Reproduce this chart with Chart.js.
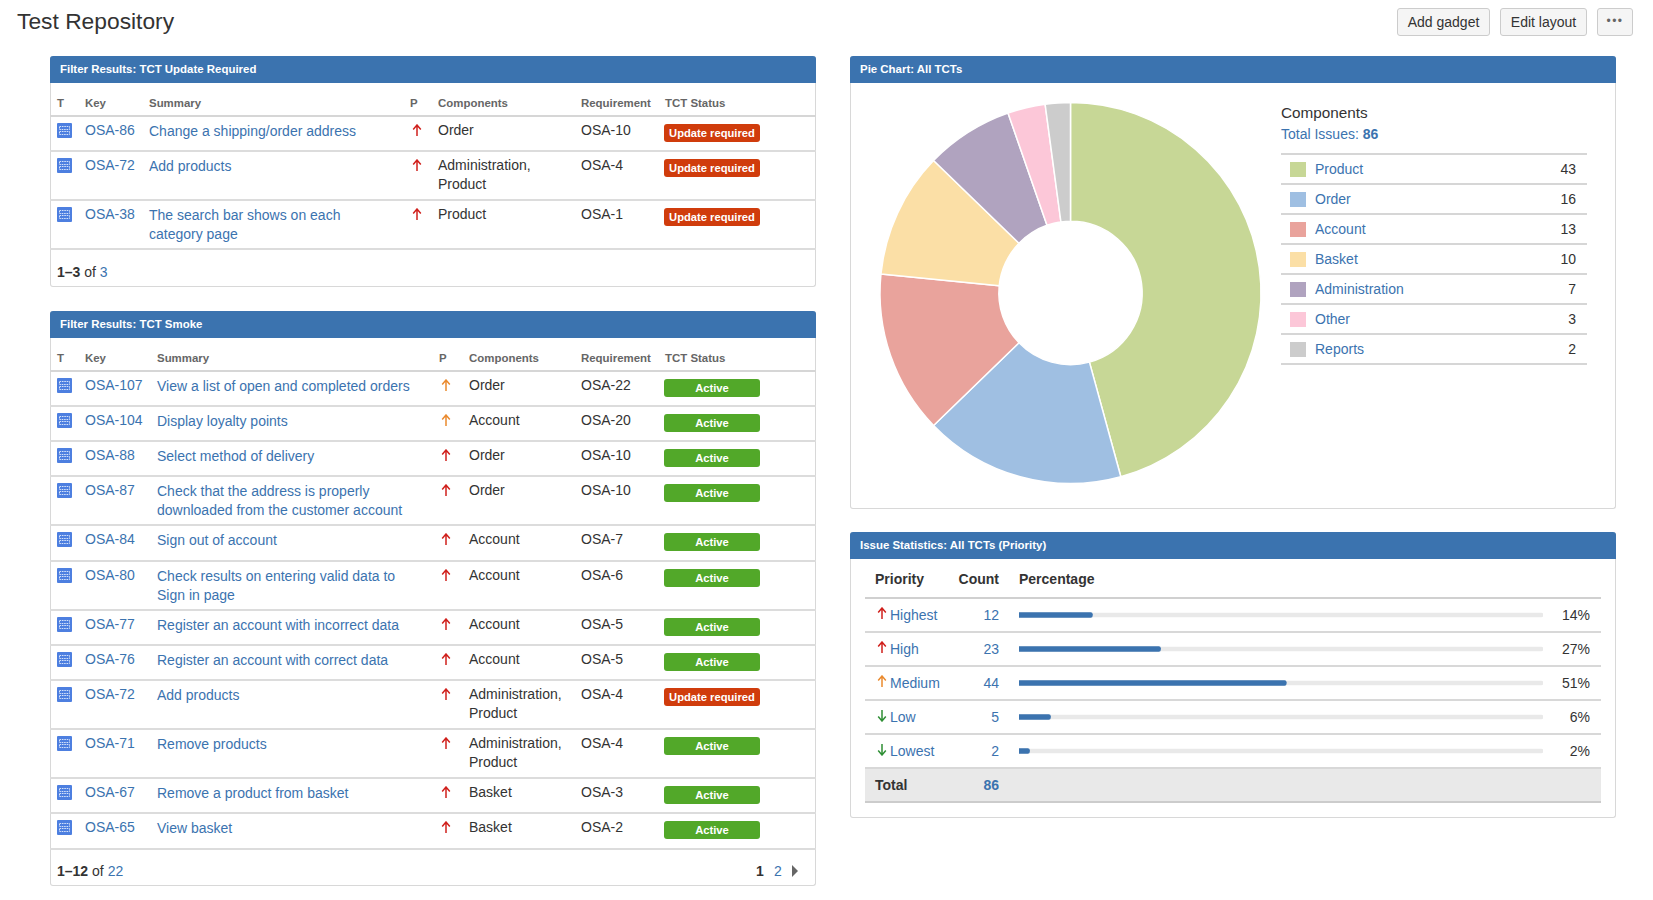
<!DOCTYPE html>
<html>
<head>
<meta charset="utf-8">
<title>Test Repository</title>
<script src="https://cdn.jsdelivr.net/npm/chart.js@4/dist/chart.umd.js"></script>
<style>
  html, body { margin: 0; padding: 0; background: #fff; }
  body { width: 1653px; height: 900px; overflow: hidden; position: relative; font: 14px/19px "Liberation Sans", Arial, sans-serif; color: #333; }
  a { color: #3b73af; text-decoration: none; }
  h1 { position: absolute; left: 17px; top: 7px; margin: 0; font-size: 22.8px; line-height: 29px; font-weight: normal; color: #333; }
  .btn { position: absolute; top: 8px; height: 28px; box-sizing: border-box; border: 1px solid #ccc; border-radius: 3px; background: #f5f5f5; text-align: center; line-height: 26px; color: #333; }
  .panel { position: absolute; box-sizing: border-box; border: 1px solid #d8d8d8; border-top: 0; border-radius: 3px; }
  .panel > .head { position: absolute; left: -1px; right: -1px; top: 0; height: 27px; background: #3b73af; color: #fff; font-weight: bold; font-size: 11.45px; line-height: 26px; padding-left: 10px; border-radius: 3px 3px 0 0; }
  table { border-collapse: separate; border-spacing: 0; table-layout: fixed; position: absolute; }
  .issues { left: -1px; top: 27px; }
  .issues th { height: 34px; box-sizing: border-box; padding: 13px 0 0; text-align: left; font-size: 11.45px; line-height: 14px; color: #666; vertical-align: top; border-bottom: 2px solid #d6d6d6; white-space: nowrap; }
  .issues td { height: 35.1px; box-sizing: border-box; padding: 4px 0 5.2px; vertical-align: top; border-bottom: 2px solid #dcdcdc; white-space: pre-line; position: relative; }
  .issues th:first-child { padding-left: 7px; }
  .issues td.sum a { position: relative; top: 1px; }
  .icon { position: absolute; left: 7px; top: 6px; }
  .arrow { position: absolute; left: 2px; top: 7px; }
  .loz { position: absolute; left: -1px; top: 7px; width: 96px; height: 18px; border-radius: 3px; color: #fff; font-weight: bold; font-size: 11.2px; line-height: 18px; text-align: center; }
  .loz.upd { background: #d03c0c; }
  .loz.act { background: #52a829; }
  .foot { position: absolute; left: 6px; }
  .legend { left: 430px; top: 97px; border-top: 2px solid #d6d6d6; }
  .legend td { height: 30px; box-sizing: border-box; border-bottom: 2px solid #d6d6d6; padding: 0; position: relative; }
  .legend .sw { display: block; position: absolute; left: 9px; top: 7px; width: 16px; height: 15px; }
  .legend .lab { padding-left: 34px; }
  .legend .cnt { text-align: right; padding-right: 11px; }
  .stats { left: 14px; top: 27px; }
  .stats th { height: 40px; box-sizing: border-box; padding: 2px 0 0; text-align: left; vertical-align: middle; font-weight: bold; color: #333; border-bottom: 2px solid #d0d0d0; }
  .stats td { height: 34px; box-sizing: border-box; padding: 0; border-bottom: 2px solid #d8d8d8; position: relative; }
  .stats .num { text-align: right; }
  .stats .pr { padding-left: 25px; }
  .stats .pct { text-align: right; padding-right: 11px; }
  .stats .total td { background: #e9e9e9; font-weight: bold; border-bottom-color: #ccc; }
  .stats .arrow { left: 12px; top: 8px; }
  canvas { position: absolute; display: block; }
</style>
</head>
<body>
<script>
// pie gadget
const pieCategories = ['Product', 'Order', 'Account', 'Basket', 'Administration', 'Other', 'Reports'];
const pieValues = [43, 16, 13, 10, 7, 3, 2];
const pieColors = ['#c7d796', '#9fbfe2', '#e9a39c', '#fbdfa6', '#b0a3bf', '#fcc7d8', '#cccccc'];
const totalIssues = 86;

// issue statistics gadget
const priorityNames = ['Highest', 'High', 'Medium', 'Low', 'Lowest'];
const priorityCounts = [12, 23, 44, 5, 2];
const priorityPercents = [14, 27, 51, 6, 2];
const priorityTrack = [100, 100, 100, 100, 100];

// filter results: key, summary, priority, components, requirement, status
const updateRows = [
  ['OSA-86', 'Change a shipping/order address', 'Highest', 'Order', 'OSA-10', 'Update required'],
  ['OSA-72', 'Add products', 'Highest', 'Administration,\nProduct', 'OSA-4', 'Update required'],
  ['OSA-38', 'The search bar shows on each\ncategory page', 'Highest', 'Product', 'OSA-1', 'Update required']
];
const smokeRows = [
  ['OSA-107', 'View a list of open and completed orders', 'Medium', 'Order', 'OSA-22', 'Active'],
  ['OSA-104', 'Display loyalty points', 'Medium', 'Account', 'OSA-20', 'Active'],
  ['OSA-88', 'Select method of delivery', 'Highest', 'Order', 'OSA-10', 'Active'],
  ['OSA-87', 'Check that the address is properly\ndownloaded from the customer account', 'Highest', 'Order', 'OSA-10', 'Active'],
  ['OSA-84', 'Sign out of account', 'Highest', 'Account', 'OSA-7', 'Active'],
  ['OSA-80', 'Check results on entering valid data to\nSign in page', 'Highest', 'Account', 'OSA-6', 'Active'],
  ['OSA-77', 'Register an account with incorrect data', 'Highest', 'Account', 'OSA-5', 'Active'],
  ['OSA-76', 'Register an account with correct data', 'Highest', 'Account', 'OSA-5', 'Active'],
  ['OSA-72', 'Add products', 'Highest', 'Administration,\nProduct', 'OSA-4', 'Update required'],
  ['OSA-71', 'Remove products', 'Highest', 'Administration,\nProduct', 'OSA-4', 'Active'],
  ['OSA-67', 'Remove a product from basket', 'Highest', 'Basket', 'OSA-3', 'Active'],
  ['OSA-65', 'View basket', 'Highest', 'Basket', 'OSA-2', 'Active']
];
const issueColumns = ['T', 'Key', 'Summary', 'P', 'Components', 'Requirement', 'TCT Status'];

const arrowColors = { Highest: '#d0201c', High: '#d0201c', Medium: '#ea8a2e', Low: '#2f8f35', Lowest: '#2f8f35' };

function arrowSvg(priority) {
  const c = arrowColors[priority];
  const path = (priority === 'Low' || priority === 'Lowest') ? 'M5 12V1M1.2 7.6 5 12 8.8 7.6' : 'M5 12V1M1.2 5.4 5 1 8.8 5.4';
  return '<svg class="arrow" width="10" height="13" viewBox="0 0 10 13"><path d="' + path + '" fill="none" stroke="' + c + '" stroke-width="1.5"/></svg>';
}

const typeIcon = '<svg class="icon" width="15" height="15" viewBox="0 0 15 15"><rect width="15" height="15" rx="1" fill="#4d7fe0"/>' +
  '<path d="M2.5 3.5h10v3h-10zM2.5 8.5h10v3h-10z" fill="none" stroke="#d5e2fa" stroke-width="1" stroke-dasharray="1.6 .8"/></svg>';

function addPanel(left, top, width, height, title) {
  const p = document.createElement('div');
  p.className = 'panel';
  p.style.cssText = 'left:' + left + 'px;top:' + top + 'px;width:' + width + 'px;height:' + height + 'px';
  p.innerHTML = '<div class="head">' + title + '</div>';
  document.body.appendChild(p);
  return p;
}

function issueTable(panel, rows, widths) {
  let html = '<table class="issues" style="width:' + widths.reduce((a, b) => a + b, 0) + 'px"><colgroup>' +
    widths.map(w => '<col style="width:' + w + 'px">').join('') + '</colgroup><tr>' +
    issueColumns.map(c => '<th>' + c + '</th>').join('') + '</tr>';
  rows.forEach(r => {
    const cls = r[5] === 'Active' ? 'act' : 'upd';
    html += '<tr><td>' + typeIcon + '</td><td><a>' + r[0] + '</a></td><td class="sum"><a>' + r[1] + '</a></td><td>' + arrowSvg(r[2]) +
      '</td><td>' + r[3] + '</td><td>' + r[4] + '</td><td><span class="loz ' + cls + '">' + r[5] + '</span></td></tr>';
  });
  panel.insertAdjacentHTML('beforeend', html + '</table>');
}

document.body.insertAdjacentHTML('beforeend', '<h1>Test Repository</h1>' +
  '<div class="btn" style="left:1397px;width:93px">Add gadget</div>' +
  '<div class="btn" style="left:1500px;width:87px">Edit layout</div>' +
  '<div class="btn" style="left:1597px;width:36px;font-size:12px;line-height:24px;letter-spacing:1.5px;color:#666">•••</div>');

const p1 = addPanel(50, 56, 766, 231, 'Filter Results: TCT Update Required');
issueTable(p1, updateRows, [35, 64, 261, 28, 143, 84, 151]);
p1.insertAdjacentHTML('beforeend', '<div class="foot" style="top:207px"><b>1–3</b> of <a>3</a></div>');

const p2 = addPanel(50, 311, 766, 575, 'Filter Results: TCT Smoke');
issueTable(p2, smokeRows, [35, 72, 282, 30, 112, 84, 151]);
p2.insertAdjacentHTML('beforeend', '<div class="foot" style="top:551px"><b>1–12</b> of <a>22</a></div>' +
  '<b style="position:absolute;left:705px;top:551px">1</b><a style="position:absolute;left:723px;top:551px">2</a>' +
  '<svg style="position:absolute;left:741px;top:554px" width="7" height="12"><path d="M0 0 6 6 0 12z" fill="#666"/></svg>');

// pie gadget
const p3 = addPanel(850, 56, 766, 453, 'Pie Chart: All TCTs');
let legendHtml = '<div style="position:absolute;left:430px;top:47px;font-size:15.3px">Components</div>' +
  '<div style="position:absolute;left:430px;top:69px"><a>Total Issues: <b>' + totalIssues + '</b></a></div>' +
  '<table class="legend" style="width:306px"><colgroup><col style="width:246px"><col style="width:60px"></colgroup>';
pieCategories.forEach((name, i) => {
  legendHtml += '<tr><td class="lab"><span class="sw" style="background:' + pieColors[i] + '"></span><a>' + name +
    '</a></td><td class="cnt">' + pieValues[i] + '</td></tr>';
});
p3.insertAdjacentHTML('beforeend', legendHtml + '</table>');

const pieCanvas = document.createElement('canvas');
pieCanvas.style.cssText = 'left:22px;top:39px;width:395px;height:396px';
pieCanvas.width = 395; pieCanvas.height = 396;
p3.appendChild(pieCanvas);

new Chart(pieCanvas.getContext('2d'), {
  type: 'doughnut',
  data: {
    labels: pieCategories,
    datasets: [{ data: pieValues, backgroundColor: pieColors, borderColor: '#fff', borderWidth: 1.5, radius: 190.5, cutout: 74 }]
  },
  options: {
    responsive: false,
    animation: false,
    plugins: { legend: { display: false }, tooltip: { enabled: false } }
  }
});

// issue statistics gadget
const p4 = addPanel(850, 532, 766, 286, 'Issue Statistics: All TCTs (Priority)');
let statsHtml = '<table class="stats" style="width:736px"><colgroup><col style="width:90px"><col style="width:44px"><col style="width:544px"><col style="width:58px"></colgroup>' +
  '<tr><th style="padding-left:10px">Priority</th><th class="num">Count</th><th style="padding-left:20px" colspan="2">Percentage</th></tr>';
priorityNames.forEach((name, i) => {
  statsHtml += '<tr><td class="pr">' + arrowSvg(name) + '<a>' + name + '</a></td><td class="num"><a>' + priorityCounts[i] +
    '</a></td><td></td><td class="pct">' + priorityPercents[i] + '%</td></tr>';
});
statsHtml += '<tr class="total"><td style="padding-left:10px">Total</td><td class="num"><a>' + totalIssues + '</a></td><td></td><td></td></tr></table>';
p4.insertAdjacentHTML('beforeend', statsHtml);

const barCanvas = document.createElement('canvas');
barCanvas.style.cssText = 'left:168px;top:66px;width:524px;height:170px';
barCanvas.width = 524; barCanvas.height = 170;
p4.appendChild(barCanvas);

new Chart(barCanvas.getContext('2d'), {
  type: 'bar',
  data: {
    labels: priorityNames,
    datasets: [
      { data: priorityPercents, backgroundColor: '#3b73af', barThickness: 5, borderRadius: 2 },
      { data: priorityTrack, backgroundColor: '#e9e9e9', barThickness: 4, borderRadius: 2 }
    ]
  },
  options: {
    indexAxis: 'y',
    responsive: false,
    animation: false,
    datasets: { bar: { grouped: false } },
    scales: {
      x: { display: false, min: 0, max: 100 },
      y: { display: false }
    },
    plugins: { legend: { display: false }, tooltip: { enabled: false } }
  }
});
</script>
</body>
</html>
